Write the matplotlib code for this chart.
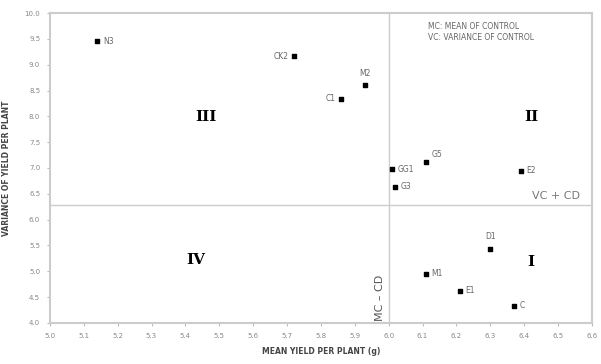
import matplotlib.pyplot as plt

# data
genotypes = ['N3', 'CK2', 'M2', 'C1', 'GG1', 'G5', 'G3', 'E2', 'D1', 'M1', 'E1', 'C']
mean_yield = [5.14, 5.72, 5.93, 5.86, 6.01, 6.11, 6.02, 6.39, 6.30, 6.11, 6.21, 6.37]
variance = [9.45, 9.16, 8.61, 8.34, 6.98, 7.12, 6.64, 6.95, 5.43, 4.95, 4.62, 4.33]

# label offsets (points) and alignment
offsets = [(4, 0, 'left'), (-4, 0, 'right'), (0, 5, 'center'), (-4, 0, 'right'),
           (4, 0, 'left'), (4, 2, 'left'), (4, 0, 'left'), (4, 0, 'left'),
           (0, 6, 'center'), (4, 0, 'left'), (4, 0, 'left'), (4, 0, 'left')]

mean_control = 6.0
vc_plus_cd = 6.29

x_ticks = [5.0, 5.1, 5.2, 5.3, 5.4, 5.5, 5.6, 5.7, 5.8, 5.9, 6.0, 6.1, 6.2, 6.3, 6.4, 6.5, 6.6]
y_ticks = [4.0, 4.5, 5.0, 5.5, 6.0, 6.5, 7.0, 7.5, 8.0, 8.5, 9.0, 9.5, 10.0]

txt = '#666666'
fig = plt.figure(figsize=(6.01, 3.64), dpi=100)
ax = fig.add_axes([0.083, 0.113, 0.902, 0.851])

ax.scatter(mean_yield, variance, s=7, color='black', marker='s', zorder=3)
for g, x, y, (dx, dy, ha) in zip(genotypes, mean_yield, variance, offsets):
    ax.annotate(g, (x, y), xytext=(dx, dy), textcoords='offset points',
                ha=ha, va='bottom' if dy > 0 else 'center', fontsize=5.5, color=txt)

ax.axvline(mean_control, color='#cccccc', lw=1)
ax.axhline(vc_plus_cd, color='#cccccc', lw=1)

# quadrant numerals
ax.text(5.46, 7.99, 'III', fontsize=11, family='DejaVu Serif', fontweight='bold', ha='center', va='center')
ax.text(6.42, 7.99, 'II', fontsize=11, family='DejaVu Serif', fontweight='bold', ha='center', va='center')
ax.text(5.43, 5.22, 'IV', fontsize=11, family='DejaVu Serif', fontweight='bold', ha='center', va='center')
ax.text(6.42, 5.18, 'I', fontsize=11, family='DejaVu Serif', fontweight='bold', ha='center', va='center')

ax.text(6.565, vc_plus_cd + 0.08, 'VC + CD', fontsize=8, color='#777777', ha='right', va='bottom')
ax.text(mean_control - 0.025, 4.03, 'MC \u2013 CD', fontsize=8, color='#555555', rotation=90,
        ha='center', va='bottom')
ax.text(6.115, 9.82, 'MC: MEAN OF CONTROL\nVC: VARIANCE OF CONTROL', fontsize=5.5,
        color=txt, ha='left', va='top', linespacing=1.3)

ax.set_xlim(5.0, 6.6)
ax.set_ylim(4.0, 10.0)
ax.set_xticks(x_ticks)
ax.set_yticks(y_ticks)
ax.set_xticklabels([f'{v:.1f}' for v in x_ticks], fontsize=5, color='#888888')
ax.set_yticklabels([f'{v:.1f}' for v in y_ticks], fontsize=5, color='#888888')
ax.tick_params(length=2, color='#bbbbbb', pad=5)
for s in ax.spines.values():
    s.set_color('#cccccc')
    s.set_linewidth(1.5)

ax.set_xlabel('MEAN YIELD PER PLANT (g)', fontsize=5.5, fontweight='bold', color='#444444', labelpad=6)
ax.set_ylabel('VARIANCE OF YIELD PER PLANT', fontsize=5.5, fontweight='bold', color='#444444', labelpad=10)

fig.savefig('out.png', dpi=100)
